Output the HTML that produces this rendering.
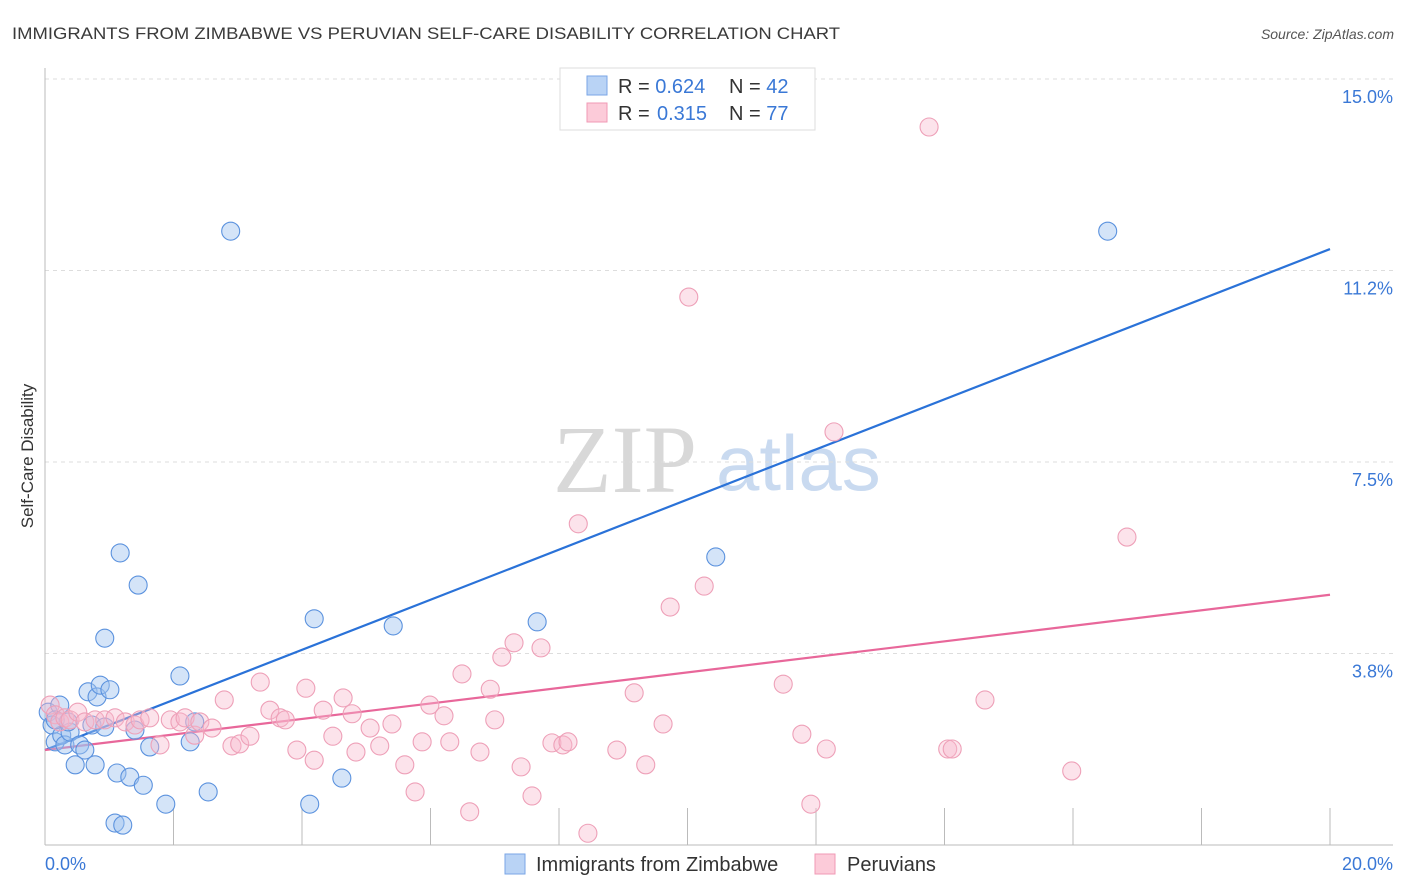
<!DOCTYPE html>
<html><head><meta charset="utf-8"><style>
body{margin:0;background:#fff;}
svg{display:block;font-family:"Liberation Sans",sans-serif;}
</style></head><body>
<svg id="chart" width="1406" height="892">
<text x="12" y="39" font-size="17" fill="#3a3a3a" textLength="828" lengthAdjust="spacingAndGlyphs">IMMIGRANTS FROM ZIMBABWE VS PERUVIAN SELF-CARE DISABILITY CORRELATION CHART</text>
<text x="1394" y="39" font-size="14" fill="#555" font-style="italic" text-anchor="end">Source: ZipAtlas.com</text>
<g>
<text x="553" y="492" font-size="96" font-family="Liberation Serif,serif" fill="#d8d8d8">ZIP</text>
<text x="716" y="490" font-size="78" fill="#c9daf0">atlas</text>
</g>
<g id="grid"></g>
<g id="axes"></g>
<g id="trend"></g>
<g id="points"></g>
<text x="33" y="456" font-size="17" fill="#333" text-anchor="middle" transform="rotate(-90 33 456)">Self-Care Disability</text>
<g>
<rect x="560" y="68" width="255" height="62" fill="#fff" stroke="#ddd"/>
<rect x="587" y="76" width="20" height="19" fill="#b9d3f5" stroke="#7aa6e6"/>
<rect x="587" y="103" width="20" height="19" fill="#fccbd9" stroke="#f09ab5"/>
<text x="618" y="93" font-size="20" fill="#333">R = <tspan fill="#3a78d6">0.624</tspan><tspan x="729">N = </tspan><tspan fill="#3a78d6">42</tspan></text>
<text x="618" y="120" font-size="20" fill="#333">R = <tspan x="657" fill="#3a78d6">0.315</tspan><tspan x="729">N = </tspan><tspan fill="#3a78d6">77</tspan></text>
</g>
<g>
<rect x="505" y="854" width="20" height="20" fill="#b9d3f5" stroke="#7aa6e6"/>
<text x="536" y="871" font-size="20" fill="#333">Immigrants from Zimbabwe</text>
<rect x="815" y="854" width="20" height="20" fill="#fccbd9" stroke="#f09ab5"/>
<text x="847" y="871" font-size="20" fill="#333">Peruvians</text>
</g>
</svg>
<script>
const blueX=[0.05,0.11,0.16,0.23,0.26,0.31,0.39,0.47,0.54,0.62,0.67,0.73,0.78,0.81,0.86,0.93,0.93,1.01,1.09,1.12,1.17,1.21,1.32,1.40,1.45,1.53,1.63,1.88,2.10,2.26,2.33,2.54,2.89,4.12,4.19,4.62,5.42,7.66,10.44,16.54,0.16,0.36];
const blueY=[2.60,2.35,2.02,2.74,2.15,1.96,2.21,1.57,1.96,1.86,3.00,2.35,1.57,2.90,3.13,2.31,4.05,3.04,0.43,1.41,5.72,0.39,1.33,2.25,5.09,1.17,1.92,0.80,3.31,2.02,2.41,1.04,12.02,0.80,4.43,1.31,4.29,4.37,5.64,12.02,2.45,2.41];
const pinkX=[0.08,0.16,0.23,0.31,0.39,0.51,0.62,0.78,0.93,1.09,1.25,1.40,1.48,1.63,1.79,1.95,2.10,2.18,2.33,2.41,2.60,2.79,2.91,3.03,3.19,3.35,3.50,3.66,3.74,3.92,4.06,4.19,4.33,4.48,4.64,4.78,4.84,5.06,5.21,5.40,5.60,5.76,5.87,5.99,6.21,6.30,6.49,6.61,6.77,6.93,7.00,7.11,7.30,7.41,7.58,7.72,7.89,8.06,8.14,8.30,8.45,8.90,9.17,9.35,9.62,9.73,10.02,10.26,11.49,11.78,11.92,12.16,12.28,13.76,14.05,14.12,14.63,15.98,16.84];
const pinkY=[2.74,2.55,2.41,2.49,2.45,2.60,2.41,2.45,2.45,2.49,2.41,2.35,2.45,2.49,1.96,2.45,2.41,2.49,2.15,2.41,2.29,2.84,1.94,1.98,2.13,3.19,2.64,2.49,2.45,1.86,3.07,1.66,2.64,2.13,2.88,2.57,1.82,2.29,1.94,2.37,1.57,1.04,2.02,2.74,2.53,2.02,3.35,0.65,1.82,3.05,2.45,3.68,3.96,1.53,0.96,3.86,2.00,1.96,2.02,6.29,0.23,1.86,2.98,1.57,2.37,4.66,10.73,5.07,3.15,2.17,0.80,1.88,8.09,14.06,1.88,1.88,2.84,1.45,6.03];
const blueTrend=[1.86,11.67];
const pinkTrend=[1.86,4.90];
const yTicks=[3.75,7.5,11.25,15];
const yTickLabels=["3.8%","7.5%","11.2%","15.0%"];
const xTickLabels=["0.0%","20.0%"];

const X0=45,X1=1330,Y0=845,Y1=79;
const sx=v=>X0+(v/20)*(X1-X0);
const sy=v=>Y0-(v/15)*(Y0-Y1);
const NS="http://www.w3.org/2000/svg";
function mk(tag,parent,attrs){const e=document.createElementNS(NS,tag);for(const k in attrs)e.setAttribute(k,attrs[k]);parent.appendChild(e);return e;}
const grid=document.getElementById('grid'),axes=document.getElementById('axes'),trend=document.getElementById('trend'),pts=document.getElementById('points');
yTicks.forEach((t,i)=>{
  const l=mk('line',grid,{x1:X0,x2:1393,y1:sy(t),y2:sy(t),stroke:'#ddd','stroke-dasharray':'4,4'});
  
  
  const tx=mk('text',axes,{x:1393,y:sy(t)+24,'text-anchor':'end','font-size':18,fill:'#3a78d6'});
  tx.textContent=yTickLabels[i];
  
  
});
mk('line',axes,{x1:X0,x2:X0,y1:68,y2:Y0,stroke:'#bbb'});
mk('line',axes,{x1:X0,x2:1393,y1:Y0,y2:Y0,stroke:'#bbb'});
for(let i=1;i<=10;i++){
  const x=sx(i*2);
  const t=mk('line',axes,{x1:x,x2:x,y1:808,y2:Y0,stroke:'#bbb'});
  
  
}
const xl0=mk('text',axes,{x:45,y:870,'font-size':18,fill:'#3a78d6'});xl0.textContent=xTickLabels[0];


const xl1=mk('text',axes,{x:1393,y:870,'font-size':18,fill:'#3a78d6','text-anchor':'end'});xl1.textContent=xTickLabels[1];



blueX.forEach((v,i)=>{
  const c=mk('circle',pts,{cx:sx(v),cy:sy(blueY[i]),r:9,fill:'rgba(160,196,240,0.45)',stroke:'#5b92de','stroke-width':1.1});
  
  
});
pinkX.forEach((v,i)=>{
  const c=mk('circle',pts,{cx:sx(v),cy:sy(pinkY[i]),r:9,fill:'rgba(248,185,205,0.4)',stroke:'#eea0b8','stroke-width':1.1});
  
  
});
const bl=mk('line',trend,{x1:sx(0),y1:sy(blueTrend[0]),x2:sx(20),y2:sy(blueTrend[1]),stroke:'#2a72d8','stroke-width':2.2});


const pl=mk('line',trend,{x1:sx(0),y1:sy(pinkTrend[0]),x2:sx(20),y2:sy(pinkTrend[1]),stroke:'#e8679a','stroke-width':2.2});


</script>
</body></html>
